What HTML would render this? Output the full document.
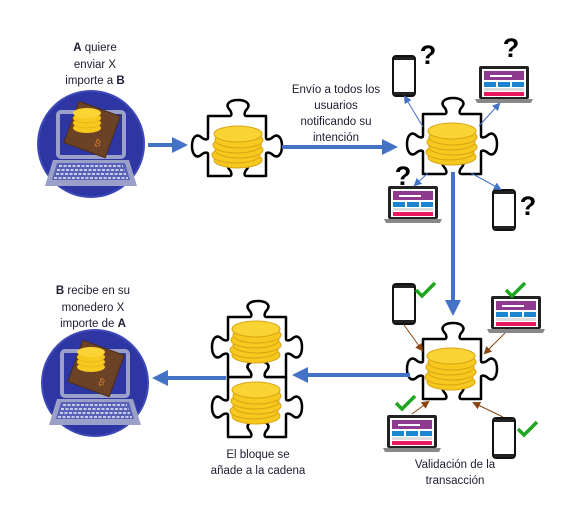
<!DOCTYPE html>
<html><head><meta charset="utf-8"><style>
html,body{margin:0;padding:0;background:#fff;}
svg{display:block;}
text{font-family:"Liberation Sans",sans-serif;font-size:11.5px;fill:#1c1c30;text-anchor:middle;}
.q{font-size:27px;font-weight:bold;fill:#000;}
</style></head><body>
<svg width="588" height="516" viewBox="0 0 588 516" xmlns="http://www.w3.org/2000/svg">
<defs>
<marker id="bh" markerWidth="4" markerHeight="4" refX="2.5" refY="2" orient="auto" markerUnits="strokeWidth"><path d="M0,0 L4,2 L0,4 Z" fill="#4472C4"/></marker>
<marker id="th" markerWidth="8" markerHeight="8" refX="6" refY="4" orient="auto" markerUnits="userSpaceOnUse"><path d="M0,0 L8,4 L0,8 Z" fill="#4472C4"/></marker>
<marker id="br" markerWidth="8" markerHeight="8" refX="6" refY="4" orient="auto" markerUnits="userSpaceOnUse"><path d="M0,0 L8,4 L0,8 Z" fill="#8B4513"/></marker>
<g id="puz">
<path d="M0,0 L22,0 C24,0 24,-4 21,-7 C17,-12 22,-16 30,-16 C38,-16 43,-12 39,-7 C36,-4 36,0 38,0 L58,0 L58,22 C58,24 62,24 65,21 C70,17 74,22 74,30 C74,38 70,43 65,39 C62,36 58,36 58,38 L58,60 L38,60 C36,60 36,56 39,53 C43,48 38,44 30,44 C22,44 17,48 21,53 C24,56 24,60 22,60 L0,60 L0,38 C0,36 -4,36 -7,39 C-12,43 -16,38 -16,30 C-16,22 -12,17 -7,21 C-4,24 0,24 0,22 Z" fill="#fff" stroke="#000" stroke-width="2.5" stroke-linejoin="round"/>
</g>
<g id="coins" fill="#F7C81E" stroke="#D9A514" stroke-width="1">
<ellipse cx="0" cy="15" rx="24" ry="8"/>
<ellipse cx="-2" cy="10" rx="24" ry="8"/>
<ellipse cx="1" cy="5" rx="24" ry="8"/>
<ellipse cx="-1" cy="0" rx="24" ry="8"/>
<ellipse cx="1" cy="-5" rx="24" ry="8"/>
<ellipse cx="0" cy="-11" rx="24" ry="8" fill="#FAD434"/>
</g>
<g id="phone">
<rect x="0" y="0" width="22" height="40" rx="3" fill="#fff" stroke="#111" stroke-width="2"/>
<rect x="1" y="1" width="20" height="3" fill="#222"/>
<rect x="1" y="36" width="20" height="3" fill="#222"/>
</g>
<g id="lap">
<rect x="4" y="0" width="50" height="33" rx="2" fill="#222"/>
<rect x="7" y="3" width="44" height="28" fill="#fff"/>
<rect x="9" y="5" width="40" height="9" fill="#8E3A8E"/>
<rect x="15" y="9" width="22" height="2" fill="#fff"/>
<rect x="9" y="16" width="12" height="5" fill="#1a86d0"/>
<rect x="23" y="16" width="12" height="5" fill="#1a86d0"/>
<rect x="37" y="16" width="12" height="5" fill="#1a86d0"/>
<rect x="9" y="22" width="40" height="3" fill="#ddd"/>
<rect x="9" y="26" width="40" height="4" fill="#E8185E"/>
<path d="M0,33 L58,33 L56,37 L2,37 Z" fill="#888"/>
</g>
<g id="user">
<circle cx="0" cy="0" r="53" fill="#2E36A3"/>
<circle cx="0" cy="0" r="53" fill="none" stroke="#4049B8" stroke-width="2"/>
<rect x="-33" y="-32" width="66" height="45" rx="3" fill="none" stroke="#9aa0c8" stroke-width="4"/>
<path d="M-38,16 L38,16 L46,42 L-46,42 Z" fill="#9aa0c8"/>
<path d="M-34,19 L34,19 L39,36 L-39,36 Z" fill="#5a62b8"/>
<g stroke="#c8cce8" stroke-width="2" stroke-dasharray="3 1.5">
<line x1="-32" y1="22" x2="32" y2="22"/><line x1="-34" y1="26" x2="34" y2="26"/><line x1="-35" y1="30" x2="35" y2="30"/><line x1="-37" y1="34" x2="37" y2="34"/>
</g>
<g transform="rotate(20) translate(-2,-12)">
<rect x="-24" y="-24" width="44" height="44" fill="#6b4226" stroke="#4a2c18"/>
<text x="8" y="12" style="font-size:9px;fill:#c8772c">₿</text>
</g>
<ellipse cx="-4" cy="-16" rx="14" ry="5" fill="#F7C81E"/>
<ellipse cx="-4" cy="-21" rx="14" ry="5" fill="#F7C81E" stroke="#d9a514" stroke-width=".5"/>
<ellipse cx="-4" cy="-26" rx="14" ry="5" fill="#F7C81E" stroke="#d9a514" stroke-width=".5"/>
<ellipse cx="-4" cy="-31" rx="14" ry="5" fill="#FAD434"/>
</g>
<path id="chk" d="M0,7 L6,13 L19,0" fill="none" stroke="#1FA51F" stroke-width="3.5"/>
</defs>

<use href="#user" x="91" y="144"/>
<text x="95" y="51"><tspan font-weight="bold">A</tspan> quiere</text>
<text x="95" y="68">enviar X</text>
<text x="95" y="84">importe a <tspan font-weight="bold">B</tspan></text>

<line x1="148" y1="145" x2="182" y2="145" stroke="#4472C4" stroke-width="4" marker-end="url(#bh)"/>

<use href="#puz" x="208" y="116"/>
<use href="#coins" x="238" y="145"/>

<line x1="282" y1="147" x2="392" y2="147" stroke="#4472C4" stroke-width="4" marker-end="url(#bh)"/>
<text x="336" y="93">Envío a todos los</text>
<text x="336" y="109">usuarios</text>
<text x="336" y="125">notificando su</text>
<text x="336" y="141">intención</text>

<use href="#puz" x="423" y="114"/>
<use href="#coins" x="452" y="142"/>
<use href="#phone" x="393" y="56"/>
<text x="428" y="64" class="q">?</text>
<use href="#lap" x="475" y="66"/>
<text x="511" y="57" class="q">?</text>
<use href="#lap" x="384" y="186"/>
<text x="403" y="185" class="q">?</text>
<use href="#phone" x="493" y="190"/>
<text x="528" y="215" class="q">?</text>
<g stroke="#4472C4" stroke-width="1">
<line x1="423" y1="127" x2="405" y2="97" marker-end="url(#th)"/>
<line x1="479" y1="126" x2="499" y2="104" marker-end="url(#th)"/>
<line x1="428" y1="173" x2="415" y2="185" marker-end="url(#th)"/>
<line x1="471" y1="173" x2="500" y2="189" marker-end="url(#th)"/>
</g>
<line x1="453" y1="172" x2="453" y2="310" stroke="#4472C4" stroke-width="4" marker-end="url(#bh)"/>

<use href="#puz" x="423" y="339"/>
<use href="#coins" x="451" y="367"/>
<use href="#phone" x="393" y="284"/>
<use href="#chk" x="416" y="283"/>
<use href="#lap" x="487" y="296"/>
<use href="#chk" x="506" y="283"/>
<use href="#lap" x="383" y="415"/>
<use href="#chk" x="396" y="396"/>
<use href="#phone" x="493" y="418"/>
<use href="#chk" x="518" y="422"/>
<g stroke="#8B4513" stroke-width="1">
<line x1="404" y1="325" x2="422" y2="350" marker-end="url(#br)"/>
<line x1="505" y1="333" x2="485" y2="353" marker-end="url(#br)"/>
<line x1="412" y1="414" x2="428" y2="402" marker-end="url(#br)"/>
<line x1="503" y1="417" x2="474" y2="403" marker-end="url(#br)"/>
</g>
<text x="455" y="468">Validación de la</text>
<text x="455" y="484">transacción</text>

<line x1="410" y1="375" x2="298" y2="375" stroke="#4472C4" stroke-width="4" marker-end="url(#bh)"/>

<use href="#puz" x="228" y="377"/>
<use href="#puz" x="228" y="317"/>
<path d="M250,377 C252,377 252,373 249,370 C245,365 250,361 258,361 C266,361 271,365 267,370 C264,373 264,377 266,377" fill="#fff" stroke="#000" stroke-width="2.5"/>
<use href="#coins" x="256" y="340"/>
<use href="#coins" x="256" y="401"/>
<text x="258" y="458">El bloque se</text>
<text x="258" y="474">añade a la cadena</text>

<line x1="226" y1="378" x2="158" y2="378" stroke="#4472C4" stroke-width="4" marker-end="url(#bh)"/>

<use href="#user" x="95" y="383"/>
<text x="93" y="294"><tspan font-weight="bold">B</tspan> recibe en su</text>
<text x="93" y="311">monedero X</text>
<text x="93" y="327">importe de <tspan font-weight="bold">A</tspan></text>
</svg>
</body></html>
